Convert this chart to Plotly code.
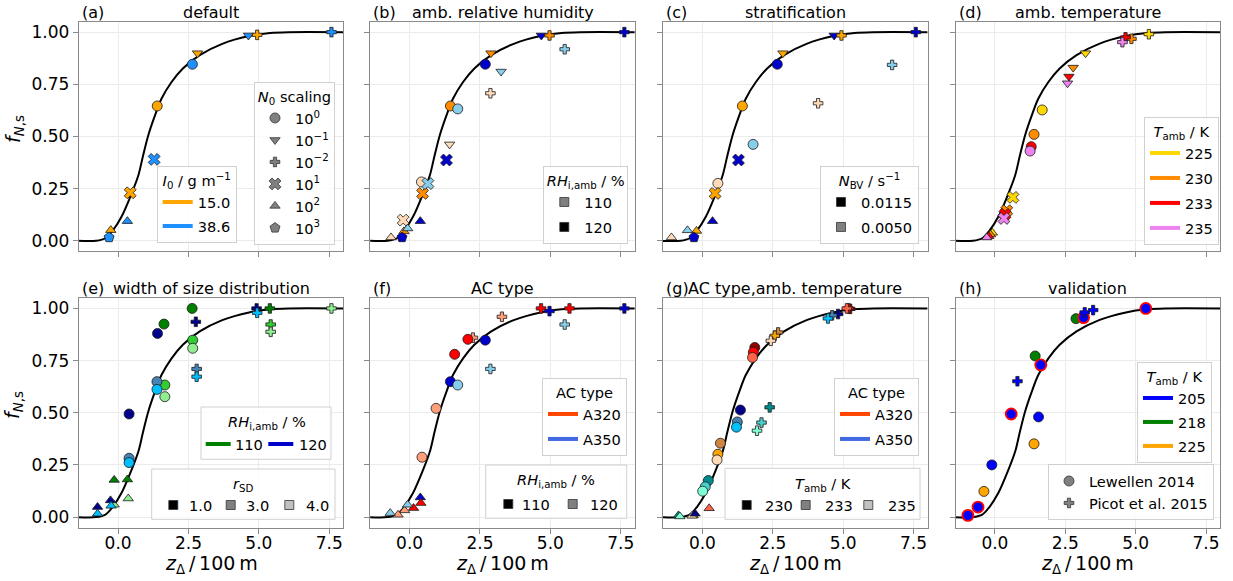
import plotly.graph_objects as go

FONT = "DejaVu Sans"
W, H = 1233, 581

# ---------------------------------------------------------------- data
# fitted parametrisation f_N,s(z_delta), sampled along the curve
CURVE_Z = [-1.5, -0.78, -0.45, -0.2, 0.12, 0.46, 0.72, 0.89, 1.07, 1.31, 1.54,
           1.9, 2.3, 2.9, 3.7, 4.65, 5.4, 6.05, 8.0]
CURVE_F = [0.0, 0.0, 0.012, 0.047, 0.115, 0.22, 0.314, 0.41, 0.505, 0.601, 0.681,
           0.761, 0.826, 0.89, 0.944, 0.981, 0.996, 1.0, 1.0]

TICK_Z = [0, 2.5, 5, 7.5]
TICK_Z_TEXT = ["0.0", "2.5", "5.0", "7.5"]
TICK_F = [0, 0.25, 0.5, 0.75, 1.0]
TICK_F_TEXT = ["0.00", "0.25", "0.50", "0.75", "1.00"]

PANEL_LETTERS = ["(a)", "(b)", "(c)", "(d)", "(e)", "(f)", "(g)", "(h)"]
PANEL_TITLES = ["default", "amb. relative humidity", "stratification",
                "amb. temperature", "width of size distribution", "AC type",
                "AC type,amb. temperature", "validation"]

# (z_delta, f_N,s, series, N0 scaling exponent)
DEFAULT_PTS = [
    (1.39, 0.646, "15.0", "0"), (2.64, 0.846, "38.6", "0"),
    (2.82, 0.899, "15.0", "-1"), (4.63, 0.984, "38.6", "-1"),
    (4.94, 0.987, "15.0", "-2"), (7.58, 1.000, "38.6", "-2"),
    (0.43, 0.230, "15.0", "1"), (1.28, 0.390, "38.6", "1"),
    (-0.26, 0.051, "15.0", "2"), (0.33, 0.094, "38.6", "2"),
    (-0.32, 0.016, "38.6", "3"),
]

RH_PTS = [
    (1.45, 0.646, "15.0/120", "0"), (2.69, 0.846, "38.6/120", "0"),
    (0.42, 0.282, "15.0/110", "0"), (1.71, 0.632, "38.6/110", "0"),
    (2.89, 0.899, "15.0/120", "-1"), (4.68, 0.984, "38.6/120", "-1"),
    (1.42, 0.462, "15.0/110", "-1"), (3.25, 0.811, "38.6/110", "-1"),
    (4.97, 0.984, "15.0/120", "-2"), (7.63, 1.000, "38.6/120", "-2"),
    (2.87, 0.707, "15.0/110", "-2"), (5.51, 0.918, "38.6/110", "-2"),
    (0.46, 0.227, "15.0/120", "1"), (1.31, 0.387, "38.6/120", "1"),
    (-0.23, 0.099, "15.0/110", "1"), (0.65, 0.274, "38.6/110", "1"),
    (-0.20, 0.045, "15.0/120", "2"), (0.38, 0.094, "38.6/120", "2"),
    (-0.66, 0.016, "15.0/110", "2"), (-0.07, 0.059, "38.6/110", "2"),
    (-0.27, 0.016, "38.6/120", "3"),
]

STRAT_PTS = [
    (1.42, 0.646, "15.0/0.0115", "0"), (2.66, 0.846, "38.6/0.0115", "0"),
    (0.55, 0.275, "15.0/0.0050", "0"), (1.80, 0.462, "38.6/0.0050", "0"),
    (2.86, 0.899, "15.0/0.0115", "-1"), (4.68, 0.984, "38.6/0.0115", "-1"),
    (4.94, 0.984, "15.0/0.0115", "-2"), (7.58, 1.000, "38.6/0.0115", "-2"),
    (4.11, 0.659, "15.0/0.0050", "-2"), (6.74, 0.843, "38.6/0.0050", "-2"),
    (0.45, 0.227, "15.0/0.0115", "1"), (1.28, 0.387, "38.6/0.0115", "1"),
    (-0.21, 0.047, "15.0/0.0115", "2"), (0.36, 0.094, "38.6/0.0115", "2"),
    (-1.10, 0.016, "15.0/0.0050", "2"), (-0.53, 0.050, "38.6/0.0050", "2"),
    (-0.30, 0.016, "38.6/0.0115", "3"),
]

TEMP_PTS = [
    (1.68, 0.627, "225", "0"), (1.39, 0.510, "230", "0"),
    (1.29, 0.451, "233", "0"), (1.25, 0.430, "235", "0"),
    (3.22, 0.899, "225", "-1"), (2.78, 0.830, "230", "-1"),
    (2.63, 0.787, "233", "-1"), (2.58, 0.755, "235", "-1"),
    (5.47, 0.990, "225", "-2"), (4.85, 0.968, "230", "-2"),
    (4.64, 0.975, "233", "-2"), (4.53, 0.952, "235", "-2"),
    (0.64, 0.208, "225", "1"), (0.42, 0.144, "230", "1"),
    (0.36, 0.127, "233", "1"), (0.32, 0.107, "235", "1"),
    (-0.09, 0.038, "225", "2"), (-0.16, 0.030, "230", "2"),
    (-0.22, 0.022, "233", "2"), (-0.29, 0.016, "235", "2"),
]

# series: RH_i,amb / r_SD
WIDTH_PTS = [
    (2.63, 1.000, "110/1.0", "0"), (1.63, 0.925, "110/1.0", "0"),
    (2.65, 0.848, "110/3.0", "0"), (1.66, 0.633, "110/3.0", "0"),
    (2.65, 0.809, "110/4.0", "0"), (1.66, 0.577, "110/4.0", "0"),
    (1.40, 0.880, "120/1.0", "0"), (0.39, 0.494, "120/1.0", "0"),
    (1.38, 0.649, "120/3.0", "0"), (0.39, 0.282, "120/3.0", "0"),
    (1.38, 0.612, "120/4.0", "0"), (0.39, 0.261, "120/4.0", "0"),
    (5.39, 1.000, "110/1.0", "-2"), (5.42, 0.923, "110/3.0", "-2"),
    (5.42, 0.888, "110/4.0", "-2"), (7.58, 1.000, "110/4.0", "-2"),
    (2.76, 0.936, "120/1.0", "-2"), (4.92, 1.000, "120/1.0", "-2"),
    (2.79, 0.710, "120/3.0", "-2"), (2.79, 0.673, "120/4.0", "-2"),
    (4.94, 0.979, "120/4.0", "-2"),
    (-0.14, 0.178, "110/1.0", "2"), (0.33, 0.180, "110/1.0", "2"),
    (0.36, 0.089, "110/4.0", "2"), (-0.14, 0.059, "110/4.0", "2"),
    (-0.27, 0.080, "120/1.0", "2"), (-0.73, 0.048, "120/1.0", "2"),
    (-0.73, 0.016, "120/4.0", "2"), (-0.25, 0.054, "120/4.0", "2"),
]

# series: aircraft / RH_i,amb
AC_PTS = [
    (4.67, 1.000, "A320/110", "-2"), (5.68, 1.000, "A320/110", "-2"),
    (3.28, 0.960, "A320/120", "-2"), (2.25, 0.860, "A320/120", "-2"),
    (4.97, 0.987, "A350/110", "-2"), (7.63, 1.000, "A350/110", "-2"),
    (2.87, 0.710, "A350/120", "-2"), (5.51, 0.923, "A350/120", "-2"),
    (2.07, 0.852, "A320/110", "0"), (1.60, 0.780, "A320/110", "0"),
    (0.94, 0.521, "A320/120", "0"), (0.44, 0.287, "A320/120", "0"),
    (2.69, 0.848, "A350/110", "0"), (1.45, 0.649, "A350/110", "0"),
    (1.71, 0.633, "A350/120", "0"),
    (0.38, 0.094, "A350/110", "2"), (0.40, 0.067, "A320/110", "2"),
    (0.14, 0.043, "A320/110", "2"), (-0.18, 0.032, "A320/120", "2"),
    (-0.41, 0.011, "A320/120", "2"), (-0.07, 0.059, "A350/120", "2"),
    (-0.69, 0.019, "A350/120", "2"),
]

# series: aircraft family / T_amb
AC_TEMP_PTS = [
    (5.25, 0.998, "A320a/230", "-2"), (5.19, 1.000, "A320a/233", "-2"),
    (5.13, 1.000, "A320a/235", "-2"),
    (2.69, 0.885, "A320b/230", "-2"), (2.57, 0.869, "A320b/233", "-2"),
    (2.43, 0.845, "A320b/235", "-2"),
    (4.82, 0.973, "A350a/230", "-2"), (4.61, 0.967, "A350a/233", "-2"),
    (4.46, 0.952, "A350a/235", "-2"),
    (2.39, 0.526, "A350b/230", "-2"), (2.10, 0.453, "A350b/233", "-2"),
    (1.94, 0.414, "A350b/235", "-2"),
    (1.86, 0.813, "A320a/230", "0"), (1.81, 0.790, "A320a/233", "0"),
    (1.78, 0.765, "A320a/235", "0"),
    (0.64, 0.354, "A320b/230", "0"), (0.55, 0.301, "A320b/233", "0"),
    (0.52, 0.274, "A320b/235", "0"),
    (1.35, 0.513, "A350a/230", "0"), (1.24, 0.456, "A350a/233", "0"),
    (1.21, 0.431, "A350a/235", "0"),
    (0.21, 0.175, "A350b/230", "0"), (0.10, 0.145, "A350b/233", "0"),
    (0.01, 0.124, "A350b/235", "0"),
    (0.24, 0.042, "A320a/235", "2"), (-0.33, 0.008, "A320b/233", "2"),
    (-0.37, 0.006, "A320b/235", "2"), (-0.26, 0.016, "A350a/230", "2"),
    (-0.85, 0.008, "A350b/230", "2"), (-0.80, 0.003, "A350b/235", "2"),
]

# (z_delta, f_N,s, T_amb, source, highlighted)
VALID_PTS = [
    (-0.96, 0.008, "205", "Lewellen", True), (-0.60, 0.048, "205", "Lewellen", True),
    (-0.39, 0.123, "225", "Lewellen", False), (-0.11, 0.250, "205", "Lewellen", False),
    (0.58, 0.494, "205", "Lewellen", True), (1.39, 0.351, "225", "Lewellen", False),
    (1.55, 0.480, "205", "Lewellen", False), (1.43, 0.772, "218", "Lewellen", False),
    (1.63, 0.729, "205", "Lewellen", True), (2.88, 0.951, "218", "Lewellen", False),
    (3.15, 0.956, "205", "Lewellen", True), (5.36, 1.000, "205", "Lewellen", True),
    (0.80, 0.651, "205", "Picot", False), (3.19, 0.981, "205", "Picot", False),
    (3.49, 0.992, "205", "Picot", False),
]

# ---------------------------------------------------------------- styles
SYMBOLS = {"0": "circle", "-1": "triangle-down", "-2": "cross", "1": "x",
           "2": "triangle-up", "3": "pentagon"}
SIZES = {"circle": 10, "triangle-down": 9, "cross": 8, "x": 10.5,
         "triangle-up": 9, "pentagon": 10.5, "square": 9}

COLORS_DEFAULT = {"15.0": "#FFA500", "38.6": "#1E90FF"}
COLORS_RH = {"15.0/120": "#FF8C00", "15.0/110": "#FFDAB9",
             "38.6/120": "#0000CD", "38.6/110": "#87CEEB"}
COLORS_STRAT = {"15.0/0.0115": "#FFA500", "15.0/0.0050": "#FFDAB9",
                "38.6/0.0115": "#0000CD", "38.6/0.0050": "#87CEEB"}
COLORS_TEMP = {"225": "#FFD700", "230": "#FF8C00", "233": "#FF0000", "235": "#EE82EE"}
COLORS_WIDTH = {"110/1.0": "#008000", "110/3.0": "#32CD32", "110/4.0": "#90EE90",
                "120/1.0": "#00008B", "120/3.0": "#4682B4", "120/4.0": "#00BFFF"}
COLORS_AC = {"A320/110": "#FF0000", "A320/120": "#FFA07A",
             "A350/110": "#0000CD", "A350/120": "#87CEEB"}
COLORS_AC_TEMP = {
    "A320a/230": "#8B0000", "A320a/233": "#FF0000", "A320a/235": "#FF6347",
    "A320b/230": "#CD853F", "A320b/233": "#FFA500", "A320b/235": "#FFDAB9",
    "A350a/230": "#00008B", "A350a/233": "#4682B4", "A350a/235": "#00BFFF",
    "A350b/230": "#008B8B", "A350b/233": "#48D1CC", "A350b/235": "#7FFFD4",
}
COLORS_VALID = {"205": "#0000FF", "218": "#008000", "225": "#FFA500"}

EDGE = "#1a1a1a"
GRID = "#ebebeb"
FRAME = "#8a8a8a"
GRAY = "#808080"
LIGHT = "#C0C0C0"
LEG_FONT = 14.6
LEG_BORDER = "#d0d0d0"
LEG_BG = "rgba(255,255,255,0.8)"

COL_LEFT = [78.7, 370.2, 663.0, 955.5]
PANEL_W = 264.6
ROW_TOP = [21.7, 298.0]
PANEL_H = 229.5
TITLE_Y = [12.5, 288.0]
YLABEL_Y = [129.0, 405.0]
XLABEL_Y = 564.0


def px(xp):
    return xp / W


def py(yp):
    return 1 - yp / H


fig = go.Figure()


def marker_trace(pts, colors, axis_id):
    xs, ys, cols, syms, sizes = [], [], [], [], []
    for z, f, key, shape in pts:
        sym = SYMBOLS[shape]
        xs.append(z)
        ys.append(f)
        cols.append(colors[key])
        syms.append(sym)
        sizes.append(SIZES[sym])
    return go.Scatter(
        x=xs, y=ys, mode="markers", showlegend=False, hoverinfo="skip",
        marker=dict(color=cols, symbol=syms, size=sizes, opacity=1,
                    line=dict(color=EDGE, width=0.8)),
        xaxis=f"x{axis_id}", yaxis=f"y{axis_id}")


def validation_trace(pts, axis_id):
    xs, ys, cols, syms, sizes, edges, ew = [], [], [], [], [], [], []
    for z, f, temp, source, hl in pts:
        sym = "circle" if source == "Lewellen" else "cross"
        xs.append(z)
        ys.append(f)
        cols.append(COLORS_VALID[temp])
        syms.append(sym)
        sizes.append(SIZES[sym] + (1 if hl else 0))
        edges.append("#FF0000" if hl else EDGE)
        ew.append(1.8 if hl else 0.8)
    return go.Scatter(
        x=xs, y=ys, mode="markers", showlegend=False, hoverinfo="skip",
        marker=dict(color=cols, symbol=syms, size=sizes, opacity=1,
                    line=dict(color=edges, width=ew)),
        xaxis=f"x{axis_id}", yaxis=f"y{axis_id}")


PANEL_DATA = [
    (DEFAULT_PTS, COLORS_DEFAULT), (RH_PTS, COLORS_RH),
    (STRAT_PTS, COLORS_STRAT), (TEMP_PTS, COLORS_TEMP),
    (WIDTH_PTS, COLORS_WIDTH), (AC_PTS, COLORS_AC),
    (AC_TEMP_PTS, COLORS_AC_TEMP), (None, None),
]

layout_axes = {}
annotations = []
shapes = []


def text_ann(text, x, y, size, xanchor="center", angle=0):
    return dict(text=text, x=px(x), y=py(y), xref="paper", yref="paper",
                xanchor=xanchor, yanchor="middle", showarrow=False,
                textangle=angle, font=dict(family=FONT, size=size, color="black"))


for i in range(8):
    aid = i + 1
    r, c = divmod(i, 4)
    sfx = "" if aid == 1 else str(aid)

    # fitted curve below the markers
    fig.add_trace(go.Scatter(
        x=CURVE_Z, y=CURVE_F, mode="lines", showlegend=False, hoverinfo="skip",
        line=dict(color="black", width=2, shape="spline", smoothing=0.9),
        xaxis=f"x{aid}", yaxis=f"y{aid}"))
    pts, cols = PANEL_DATA[i]
    if pts is not None:
        fig.add_trace(marker_trace(pts, cols, aid))
    else:
        fig.add_trace(validation_trace(VALID_PTS, aid))

    left = COL_LEFT[c]
    top = ROW_TOP[r]
    common = dict(showgrid=True, gridcolor=GRID, gridwidth=1, zeroline=False,
                  showline=True, mirror=True, linecolor=FRAME, linewidth=1,
                  ticks="outside", ticklen=5, tickwidth=1, tickcolor=FRAME,
                  tickfont=dict(family=FONT, size=17, color="black"))
    layout_axes[f"xaxis{sfx}"] = dict(
        domain=[px(left), px(left + PANEL_W)], anchor=f"y{aid}",
        range=[-1.4, 8.0], tickvals=TICK_Z, ticktext=TICK_Z_TEXT,
        showticklabels=(r == 1), ticklabelstandoff=-5, **common)
    layout_axes[f"yaxis{sfx}"] = dict(
        domain=[py(top + PANEL_H), py(top)], anchor=f"x{aid}",
        range=[-0.05, 1.05], tickvals=TICK_F, ticktext=TICK_F_TEXT,
        showticklabels=(c == 0), **common)

    annotations.append(text_ann(PANEL_LETTERS[i], left + 1, TITLE_Y[r], 16,
                                xanchor="left"))
    annotations.append(text_ann(PANEL_TITLES[i], left + PANEL_W / 2,
                                TITLE_Y[r], 16))
    if c == 0:
        annotations.append(text_ann("<i>f</i><sub><i>N</i>,s</sub>", 14,
                                    YLABEL_Y[r], 19, angle=-90))
    if r == 1:
        annotations.append(text_ann(
            "<i>z</i><sub>Δ</sub>\u2009/\u2009100\u2009m",
            left + PANEL_W / 2, XLABEL_Y, 19))

# ---------------------------------------------------------------- legends
# stacked legends: (right px, bottom px, title, row gap, entries)
LEGENDS = [
    (236.7, 243, "<i>I</i><sub>0</sub> / g m<sup>−1</sup>", 2,
     [("15.0", "line", "#FFA500", None), ("38.6", "line", "#1E90FF", None)]),
    (335, 245, "<i>N</i><sub>0</sub> scaling", 0,
     [("10<sup>0</sup>", "marker", GRAY, "circle"),
      ("10<sup>−1</sup>", "marker", GRAY, "triangle-down"),
      ("10<sup>−2</sup>", "marker", GRAY, "cross"),
      ("10<sup>1</sup>", "marker", GRAY, "x"),
      ("10<sup>2</sup>", "marker", GRAY, "triangle-up"),
      ("10<sup>3</sup>", "marker", GRAY, "pentagon")]),
    (628.3, 244, "<i>RH</i><sub>i,amb</sub> / %", 3,
     [("110", "marker", GRAY, "square"), ("120", "marker", "black", "square")]),
    (919, 244, "<i>N</i><sub>BV</sub> / s<sup>−1</sup>", 3,
     [("0.0115", "marker", "black", "square"), ("0.0050", "marker", GRAY, "square")]),
    (1219, 245, "<i>T</i><sub>amb</sub> / K", 3,
     [("225", "line", "#FFD700", None), ("230", "line", "#FF8C00", None),
      ("233", "line", "#FF0000", None), ("235", "line", "#EE82EE", None)]),
    (627, 456, "AC type", 3,
     [("A320", "line", "#FF4500", None), ("A350", "line", "#4169E1", None)]),
    (919, 456, "AC type", 3,
     [("A320", "line", "#FF4500", None), ("A350", "line", "#4169E1", None)]),
    (1212, 463, "<i>T</i><sub>amb</sub> / K", 2,
     [("205", "line", "#0000FF", None), ("218", "line", "#008000", None),
      ("225", "line", "#FFA500", None)]),
    (1214, 520, None, 0,
     [("Lewellen 2014", "marker", GRAY, "circle"),
      ("Picot et al. 2015", "marker", GRAY, "cross")]),
]

legend_layouts = {}
for n, (right, bottom, title, gap, entries) in enumerate(LEGENDS):
    name = "legend" if n == 0 else f"legend{n + 1}"
    lg = dict(x=px(right), y=py(bottom), xanchor="right", yanchor="bottom",
              xref="paper", yref="paper", bgcolor=LEG_BG,
              bordercolor=LEG_BORDER, borderwidth=1, traceorder="grouped",
              tracegroupgap=gap, orientation="v",
              font=dict(family=FONT, size=LEG_FONT, color="black"))
    if title:
        lg["title"] = dict(text=title, side="top center",
                           font=dict(family=FONT, size=LEG_FONT, color="black"))
    legend_layouts[name] = lg
    for k, (label, kind, color, sym) in enumerate(entries):
        if kind == "line":
            tr = go.Scatter(x=[None], y=[None], mode="lines", name=label,
                            line=dict(color=color, width=4))
        else:
            tr = go.Scatter(x=[None], y=[None], mode="markers", name=label,
                            marker=dict(color=color, symbol=sym,
                                        size=SIZES[sym], opacity=1,
                                        line=dict(color="#333333", width=0.8)))
        tr.update(legend=name, legendgroup=f"{name}-{k}", showlegend=True,
                  hoverinfo="skip")
        fig.add_trace(tr)

# single-row legends: box (x0, y0, x1, y1), title centre, row y, entries
# entries: (handle kind, colour, handle x, text x, label)
ROW_LEGENDS = [
    ((201, 407, 331, 459.3), "<i>RH</i><sub>i,amb</sub> / %", (266.5, 422.5), 444,
     [("line", "#008000", 205.7, 233.3, "110"),
      ("line", "#0000CD", 268.3, 296.7, "120")]),
    ((151.7, 469, 335, 519.3), "<i>r</i><sub>SD</sub>", (243.3, 484), 505,
     [("square", "black", 173.3, 186.7, "1.0"),
      ("square", GRAY, 230.7, 244.0, "3.0"),
      ("square", LIGHT, 289.3, 304.0, "4.0")]),
    ((485.7, 465, 626.7, 518.3), "<i>RH</i><sub>i,amb</sub> / %", (556.2, 480), 504,
     [("square", "black", 508.3, 520.0, "110"),
      ("square", GRAY, 572.7, 588.0, "120")]),
    ((725, 468.3, 920, 519.3), "<i>T</i><sub>amb</sub> / K", (822.5, 484), 505,
     [("square", "black", 746.7, 763.3, "230"),
      ("square", GRAY, 805.7, 822.7, "233"),
      ("square", LIGHT, 868.3, 885.7, "235")]),
]

for (bx0, by0, bx1, by1), title, (tx, ty), row_y, entries in ROW_LEGENDS:
    shapes.append(dict(type="rect", xref="paper", yref="paper",
                       x0=px(bx0), x1=px(bx1), y0=py(by1), y1=py(by0),
                       fillcolor=LEG_BG, line=dict(color=LEG_BORDER, width=1),
                       layer="above"))
    annotations.append(text_ann(title, tx, ty, LEG_FONT))
    for kind, color, hx, tx_, label in entries:
        if kind == "line":
            shapes.append(dict(type="line", xref="paper", yref="paper",
                               x0=px(hx), x1=px(hx + 25), y0=py(row_y),
                               y1=py(row_y), line=dict(color=color, width=4),
                               layer="above"))
        else:
            half = SIZES["square"] / 2
            shapes.append(dict(type="rect", xref="paper", yref="paper",
                               x0=px(hx - half), x1=px(hx + half),
                               y0=py(row_y + half), y1=py(row_y - half),
                               fillcolor=color,
                               line=dict(color="#333333", width=0.8),
                               layer="above"))
        annotations.append(text_ann(label, tx_, row_y, LEG_FONT, xanchor="left"))

fig.update_layout(
    width=W, height=H, margin=dict(l=0, r=0, t=0, b=0),
    paper_bgcolor="white", plot_bgcolor="white",
    font=dict(family=FONT, color="black"),
    annotations=annotations, shapes=shapes,
    **layout_axes, **legend_layouts,
)

fig.write_html("out.html")
